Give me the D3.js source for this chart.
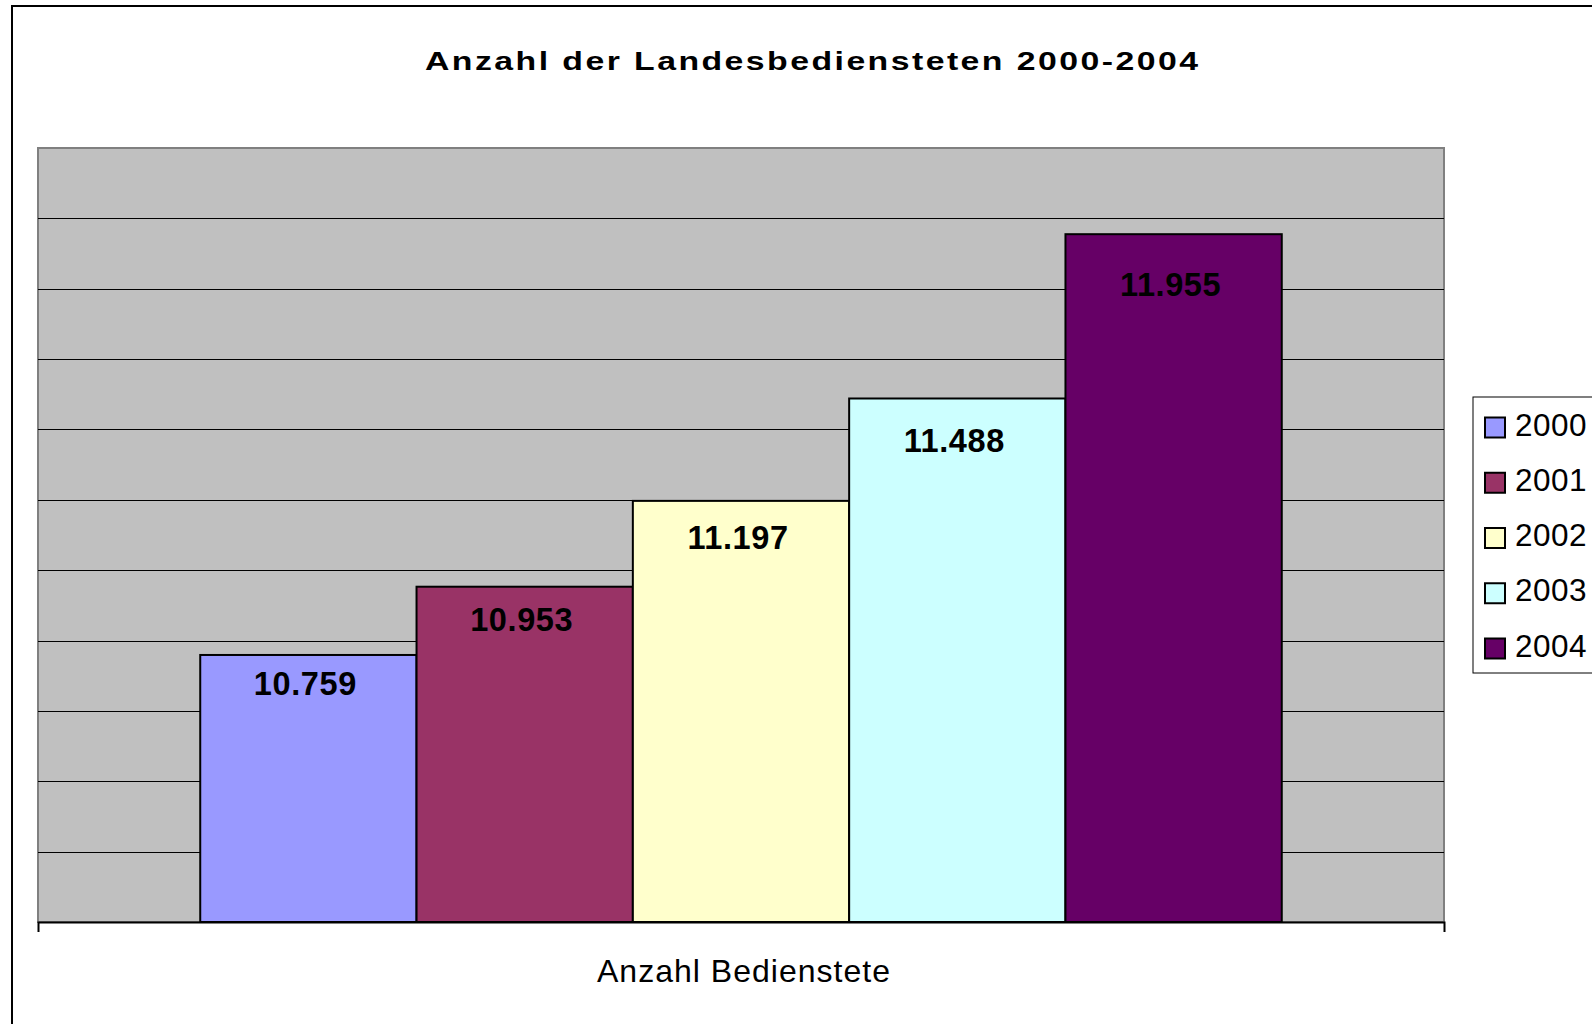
<!DOCTYPE html>
<html>
<head>
<meta charset="utf-8">
<script src="https://cdn.jsdelivr.net/npm/d3@7"></script>
<style>
  html, body { margin: 0; padding: 0; background: #fff; }
  svg { display: block; }
  text { font-family: "Liberation Sans", Arial, sans-serif; }
</style>
</head>
<body>
<svg id="chart" width="1592" height="1024"></svg>
<script>
// ---- data ----
const title = "Anzahl der Landesbediensteten 2000-2004";
const categories = ["Anzahl Bedienstete"];
const years = ["2000", "2001", "2002", "2003", "2004"];
const values = [10759, 10953, 11197, 11488, 11955];
const valueLabels = ["10.759", "10.953", "11.197", "11.488", "11.955"];
const colors = ["#9999FF", "#993366", "#FFFFCC", "#CCFFFF", "#660066"];
const yDomain = [10000, 12200];
const gridTicks = [10000, 10200, 10400, 10600, 10800, 11000, 11200, 11400, 11600, 11800, 12000, 12200];

// ---- helpers ----
function fitWidth(sel, target, sx) {
  const node = sel.node();
  const n = sel.text().length;
  const natural = node.getComputedTextLength();
  const ls = (target / sx - natural) / (n - 1);
  sel.attr("letter-spacing", ls).attr("dx", ls / 2);
}

// ---- layout ----
const svg = d3.select("#chart");
const plot = { left: 38, top: 148, right: 1444, bottom: 922 };
const W = plot.right - plot.left, H = plot.bottom - plot.top;

// outer chart border (cropped at right/bottom)
svg.append("rect")
  .attr("x", 12).attr("y", 6)
  .attr("width", 1700).attr("height", 1100)
  .attr("fill", "#fff").attr("stroke", "#000").attr("stroke-width", 2);

// title
const titleSX = 1.3;
const titleText = svg.append("text")
  .attr("transform", `translate(811.5,69.5) scale(${titleSX},1)`)
  .attr("text-anchor", "middle")
  .attr("font-size", 26).attr("font-weight", "bold")
  .text(title);
fitWidth(titleText, 773, titleSX);

const y = d3.scaleLinear().domain(yDomain).range([plot.bottom, plot.top]);
const x0 = d3.scaleBand().domain(categories).range([plot.left, plot.right])
  .paddingInner(0).paddingOuter(0.15);
const x1 = d3.scaleBand().domain(years).range([0, x0.bandwidth()]).padding(0);
const color = d3.scaleOrdinal().domain(years).range(colors);

// plot background
svg.append("rect")
  .attr("x", plot.left).attr("y", plot.top)
  .attr("width", W).attr("height", H)
  .attr("fill", "#C0C0C0").attr("stroke", "#808080").attr("stroke-width", 2);

// gridlines
const grid = svg.append("g")
  .attr("transform", `translate(${plot.left},0)`)
  .call(d3.axisLeft(y).tickValues(gridTicks.slice(1, -1)).tickSize(-W).tickFormat(""));
grid.select(".domain").remove();
grid.selectAll("line").attr("stroke", "#000").attr("stroke-width", 1).attr("shape-rendering", "crispEdges");

// bars
const data = years.map((yr, i) => ({ year: yr, value: values[i], label: valueLabels[i] }));
const g = svg.append("g").attr("transform", `translate(${x0(categories[0])},0)`);
g.selectAll("rect.bar").data(data).join("rect")
  .attr("class", "bar")
  .attr("x", d => x1(d.year))
  .attr("y", d => y(d.value))
  .attr("width", x1.bandwidth())
  .attr("height", d => y(yDomain[0]) - y(d.value))
  .attr("fill", d => color(d.year))
  .attr("stroke", "#000").attr("stroke-width", 2);

// value labels
g.selectAll("text.val").data(data).join("text")
  .attr("class", "val")
  .attr("x", d => x1(d.year) + x1.bandwidth() / 2 - 3)
  .attr("y", d => {
    const barH = y(yDomain[0]) - y(d.value);
    return y(yDomain[0]) - (0.948 * barH - 26.5);
  })
  .attr("text-anchor", "middle")
  .attr("font-size", 32.5).attr("font-weight", "bold")
  .attr("letter-spacing", 0.6)
  .attr("fill", "#000")
  .text(d => d.label);

// x axis
const xAxis = svg.append("g")
  .attr("transform", `translate(0,${plot.bottom})`)
  .call(d3.axisBottom(x0).tickValues([]).tickSizeOuter(10));
xAxis.select(".domain").attr("stroke", "#000").attr("stroke-width", 2);

const xSX = 1.05;
const xLabel = svg.append("text")
  .attr("transform", `translate(743.5,982) scale(${xSX},1)`)
  .attr("text-anchor", "middle")
  .attr("font-size", 30.5)
  .attr("fill", "#000")
  .text(categories[0]);
fitWidth(xLabel, 293, xSX);

// legend
const legend = svg.append("g");
legend.append("rect")
  .attr("x", 1473).attr("y", 397)
  .attr("width", 200).attr("height", 276)
  .attr("fill", "#fff").attr("stroke", "#000").attr("stroke-width", 1);
const rowY = d3.scalePoint().domain(years).range([427.5, 648.5]);
const items = legend.selectAll("g.item").data(years).join("g").attr("class", "item")
  .attr("transform", d => `translate(0,${rowY(d)})`);
items.append("rect")
  .attr("x", 1485).attr("y", -10).attr("width", 20).attr("height", 20)
  .attr("fill", d => color(d)).attr("stroke", "#000").attr("stroke-width", 2);
items.append("text")
  .attr("x", 1515).attr("y", 8)
  .attr("font-size", 31.5)
  .attr("letter-spacing", 0.5)
  .attr("fill", "#000")
  .text(d => d);
</script>
</body>
</html>
